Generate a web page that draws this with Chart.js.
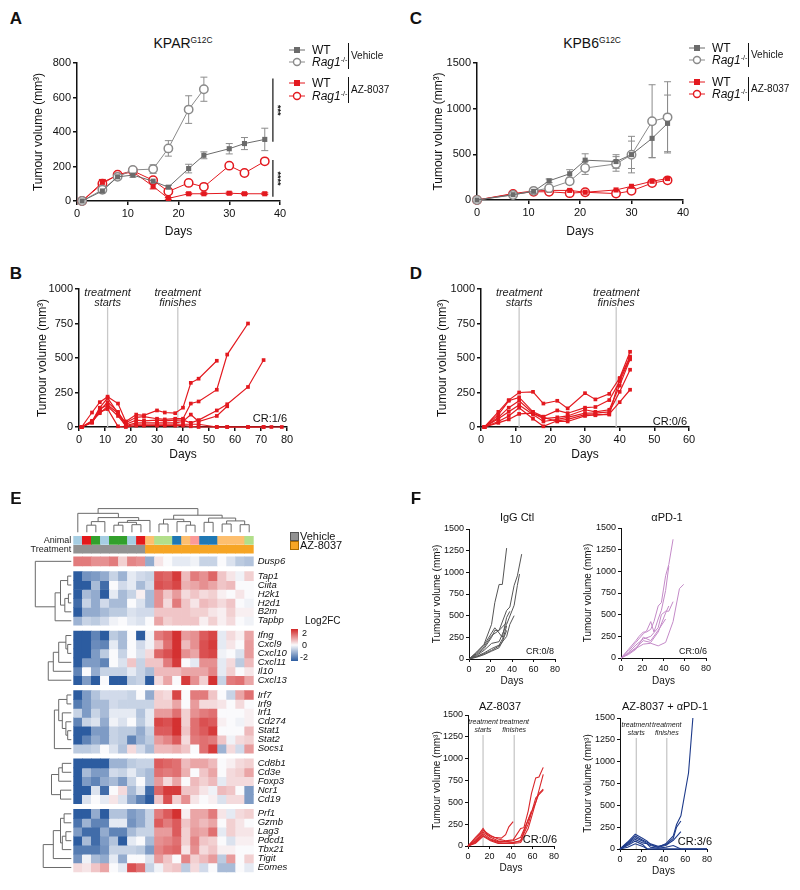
<!DOCTYPE html>
<html>
<head>
<meta charset="utf-8">
<script src="https://cdn.jsdelivr.net/npm/chart.js@4.4.1/dist/chart.umd.min.js"></script>
<style>
body { margin: 0; background: #fff; font-family: "Liberation Sans", Arial, sans-serif; }
#fig { position: relative; width: 800px; height: 890px; overflow: hidden; background: #fff; }
canvas { position: absolute; }
.t { position: absolute; white-space: nowrap; color: #111; z-index: 2; line-height: 1; }
.t sup { font-size: 0.6em; vertical-align: 0.55em; line-height: 0; }
.bar { position: absolute; width: 1px; background: #111; z-index: 2; }
</style>
</head>
<body>
<div id="fig"></div>
<script>
// ---------- data ----------
// panel A (KPAR G12C), mean tumour volume +/- error
const daysA = [1, 5, 8, 11, 15, 18, 22, 25, 30, 33, 37];
const daysARag = [1, 5, 8, 11, 15, 18, 22, 25];
const aWTVeh = [0, 58, 140, 150, 115, 80, 188, 265, 303, 333, 357];
const aWTVehErr = [0, 10, 8, 12, 15, 10, 25, 20, 30, 35, 65];
const aRagVeh = [0, 65, 140, 180, 185, 305, 530, 648];
const aRagVehErr = [0, 10, 10, 15, 25, 45, 80, 70];
const aWTAz = [0, 108, 150, 170, 85, 15, 42, 42, 45, 42, 42];
const aWTAzErr = [0, 10, 10, 12, 15, 5, 5, 5, 6, 5, 5];
const aRagAz = [0, 100, 152, 175, 120, 55, 105, 82, 205, 162, 230];
const aRagAzErr = [0, 25, 10, 15, 12, 10, 10, 10, 12, 10, 12];

// panel C (KPB6 G12C)
const daysC = [0, 7, 11, 14, 18, 21, 27, 30, 34, 37];
const cWTVeh = [0, 58, 95, 210, 287, 436, 421, 497, 675, 839];
const cWTVehErr = [0, 10, 25, 20, 45, 70, 75, 200, 210, 310];
const cRagVeh = [0, 55, 100, 130, 205, 350, 395, 495, 862, 905];
const cRagVehErr = [0, 10, 20, 20, 30, 70, 80, 150, 400, 390];
const cWTAz = [0, 70, 100, 105, 105, 85, 110, 150, 205, 235];
const cRagAz = [0, 65, 90, 90, 75, 85, 70, 100, 185, 215];

// panel B, individual mice (KPAR, AZ-8037)
const daysB = [1, 5, 8, 11, 15, 18, 22, 25, 30, 33, 37, 40, 43, 46, 53, 57, 65, 71, 74, 78];
const miceB = [
  [0, 105, 180, 220, 170, 40, 90, 85, 120, 105, 100, 140, 320, 350, 480],
  [0, 40, 140, 210, 100, 30, 70, 75, 60, 55, 60, 60, 170, 185, 270, 525, 750],
  [0, 30, 120, 180, 110, 20, 50, 45, 50, 45, 50, 50, 30, 50, 120, 165, 290, 485],
  [0, 45, 100, 150, 80, 10, 30, 30, 30, 30, 30, 40, 90, 40, 80, 150],
  [0, 35, 130, 160, 100, 5, 20, 20, 20, 20, 20, 20, 20, 20, 0, 0, 0, 0, 0, 0],
  [0, 35, 110, 130, 5, 0, 10, 10, 10, 10, 10, 10, 5, 0, 0, 0, 0, 0]
];
const treatB = [11, 38];

// panel D, individual mice (KPB6, AZ-8037)
const daysD = [1, 5, 8, 11, 15, 18, 22, 25, 30, 33, 37, 40, 43];
const miceD = [
  [0, 110, 195, 250, 255, 170, 190, 135, 245, 200, 240, 355, 545],
  [0, 90, 190, 215, 110, 75, 120, 100, 140, 145, 195, 330, 500],
  [0, 70, 140, 190, 100, 60, 70, 80, 125, 110, 125, 300, 490],
  [0, 60, 110, 160, 90, 40, 55, 70, 100, 100, 110, 255, 415],
  [0, 40, 80, 140, 60, 5, 45, 55, 90, 85, 95, 180, 270],
  [0, 30, 55, 95, 100, 70, 40, 40, 80, 90, 90, 350, 510]
];
const treatD = [11, 39];

// panel E heatmap
const genes = ['Dusp6', 'Tap1', 'Ciita', 'H2k1', 'H2d1', 'B2m', 'Tapbp', 'Ifng', 'Cxcl9', 'Cxcl10', 'Cxcl11', 'Il10', 'Cxcl13',
  'Irf7', 'Irf9', 'Irf1', 'Cd274', 'Stat1', 'Stat2', 'Socs1', 'Cd8b1', 'Cd3e', 'Foxp3', 'Ncr1', 'Cd19',
  'Prf1', 'Gzmb', 'Lag3', 'Pdcd1', 'Tbx21', 'Tigit', 'Eomes'];
const blockSizes = [1, 6, 6, 7, 5, 7];
const animal = [1, 2, 3, 1, 3, 3, 1, 2, 4, 5, 5, 6, 4, 7, 6, 6, 4, 4, 4, 5];
const treatment = ['Vehicle', 'Vehicle', 'Vehicle', 'Vehicle', 'Vehicle', 'Vehicle', 'Vehicle', 'Vehicle',
  'AZ-8037', 'AZ-8037', 'AZ-8037', 'AZ-8037', 'AZ-8037', 'AZ-8037', 'AZ-8037', 'AZ-8037', 'AZ-8037', 'AZ-8037', 'AZ-8037', 'AZ-8037'];
const heat = [
  [1.2, 1.2, 1.0, 1.0, 1.2, 0.4, 1.1, 1.0, -1.0, 0.2, 0, -0.2, -0.2, -0.1, -0.5, -0.5, 0, -0.3, -0.6, -0.7],
  [-2, -1.3, -1.2, -1.0, -0.5, -0.9, -0.2, -0.4, -0.5, 1.5, 1.4, 1.8, 0.6, 1.2, 1.0, 1.4, 0.5, 0.2, -0.1, 0.4],
  [-2, -2, -0.8, -1.8, 0, -0.4, -0.2, -0.8, -0.4, 1.6, 1.5, 1.7, 0.7, 0.8, 1.0, 0.8, 0.5, 0.6, 0, 0],
  [-2, -0.8, -1.0, -2, -0.2, -0.8, -0.5, 0.1, -0.8, 1.0, 0.5, 0.9, 0.3, 0.5, 0.3, 0.4, 0.1, 0, 0.2, 0],
  [-1.8, -0.5, -1.0, -0.4, -0.8, -0.8, 0, -0.3, -0.8, 1.0, 0.3, 1.2, 0.5, 0.2, 0.6, 0.5, 0.3, 0.5, 0, -0.1],
  [-2, -1.0, -1.0, -0.8, -0.6, -0.6, -0.3, -0.4, -0.4, 0.5, 0.5, 0.5, 0.5, 0.4, 0.4, 0.2, 0.1, 0.4, 0.1, 0.1],
  [-0.9, -0.5, -0.6, -0.4, -0.1, 0, -0.2, -0.3, 0, 0.8, 0.4, 0.5, 0.5, 0.5, 0.1, 0.4, 0.1, 0.3, 0, -0.1],
  [-2, -2, -1.5, -2, -0.6, -0.8, 0, -2, -0.1, 1.2, 1.4, 1.9, 0.9, 1.0, 1.5, 1.7, -0.2, 0.3, 0.1, 0.8],
  [-2, -2, -1.4, -1.5, -0.2, -0.8, 0, -0.4, -0.1, 0.6, 1.3, 1.9, 0.6, 1.0, 1.6, 1.8, -0.2, 0.2, 0, 0.9],
  [-2, -2, -1.2, -0.6, 0, -0.5, 0, -0.3, 0.3, 1.4, 1.6, 1.9, 1.0, 0.8, 1.6, 1.7, -0.1, 0, -0.3, 0.9],
  [-2, -1.2, -1.2, -1.5, 0, -0.3, 0.5, -0.5, 0.5, 0.5, 1.2, 1.8, 0, -0.2, 1.0, 1.0, -0.2, 0.3, -0.6, 0.6],
  [-1.5, 0, -1.0, -0.5, -0.5, -0.5, -0.2, -0.5, -0.8, 0.6, 0.6, 0.6, 0.8, 0.8, 0.8, 1.1, -0.2, 0.4, 0, 0.2],
  [-2, -1.2, -2, 0, -2, -2, -0.6, -0.5, -2, 0.3, 0.8, 0, 1.8, 1.0, 0.4, 1.9, -0.5, 1.2, 1.3, 0.8],
  [-2, -1.2, -0.7, -0.4, -0.4, -0.4, -0.5, 0, -1.0, 0.4, 0.3, 1.7, 0, 1.2, 1.2, 0.5, 0, -0.5, 0.8, 1.3],
  [-1.6, -1.2, -0.8, -0.8, -0.4, -0.5, -0.5, -0.5, -0.5, 0.4, 0.4, 0.8, 0, 0.9, 0.3, 0.3, 0.2, 0, 0.3, 0],
  [-0.5, -1.2, -0.5, -0.8, -0.2, -0.2, -0.2, -0.7, -0.2, 0.9, 0.9, 1.3, 0.4, 1.0, 1.2, 1.3, 0, 0, 0, 0.1],
  [-1.5, -0.5, -0.3, -1.0, -0.1, -0.3, 0, -0.6, -0.2, 1.7, 1.6, 1.9, 0.4, 1.3, 1.6, 1.5, 0.1, 0, -0.1, 0.1],
  [-2, -2, -1.2, -1.2, -0.5, -0.6, -0.6, -1.0, -0.5, 1.5, 1.5, 1.9, 0.5, 1.3, 1.5, 1.8, 0, 0, 0, 0.6],
  [-2, -1.5, -1.0, -1.2, -0.5, -0.6, -1.5, -0.9, -0.6, 0.9, 1.1, 1.5, 0.3, 1.2, 1.3, 1.2, 0.5, -0.1, 0.3, 0.4],
  [-0.6, -0.6, -0.5, 0, -0.3, -0.7, 0.3, -0.4, -0.8, 0.6, 0.6, 0.7, 0.5, 0, 1.3, 1.8, -0.9, 0.3, -0.4, 0.9],
  [-2, -2, -2, -2, -0.9, -0.9, -0.6, -0.5, -0.5, 1.5, 1.4, 1.3, 0.6, 0.8, 0.8, 0.6, 0, 0.1, 0.3, 0.4],
  [-2, -0.8, -1.2, -1.2, -0.4, -0.5, -0.2, -0.6, -0.8, 1.3, 1.2, 1.3, 0.7, 0, 0.5, 0.8, 0, 0.3, 0.4, 0.8],
  [-2, -1.2, -1.5, -1.0, -0.8, -1.2, -0.5, 0, -0.8, 0.9, 0.3, 0.8, 0, 0.6, 0.4, 0.6, -0.2, 0.3, 0.3, 0.3],
  [-2, -2, -0.3, -1.8, 0, 0.3, -0.8, -0.3, -1.8, 1.4, 1.8, 1.8, 0.5, 0.5, 0.2, -0.1, 0.6, 0.5, 0, -1.2],
  [-2, -0.3, 0, -0.2, 0.2, -0.3, -1.0, -1.5, -2, 0.5, 1.6, 0.4, 1.0, 0.2, 0, 0.1, -0.3, 0.3, 0.3, -1.2],
  [-2, -2, -1.0, -2, -0.7, -0.7, -1.2, -1.0, -0.5, 1.2, 1.5, 1.9, 0.1, 0.8, 0.8, 1.2, 0.2, -0.2, 0.3, 0.4],
  [-1.7, -0.9, -1.5, -1.5, -0.2, -0.2, -1.3, -1.0, -0.5, 1.5, 1.2, 1.5, 0.5, 0.8, 0.6, 0.8, 0, 0.4, 0.2, 0],
  [-1.2, -1.8, -1.8, -1.0, -1.5, -1.5, -0.8, -0.5, -0.5, 0.9, 0.9, 1.5, 0.4, 0.9, 0.8, 1.3, -0.2, 0.4, 0.2, 0.2],
  [-2, -0.8, -1.8, -1.2, -0.7, -2, -0.2, 0, -0.8, 1.0, 1.1, 1.3, 0.4, 1.1, 0.5, 0.4, 0, -0.3, 0.1, 0.1],
  [-1.6, -1.6, -1.6, -1.3, -0.5, -0.5, -0.5, -0.6, -1.2, 1.1, 1.3, 1.4, 0.2, 1.0, 0.3, 0.5, 0.1, 0.1, 0, 0],
  [-1.3, -0.1, -0.8, -1.0, -0.2, -1.0, 0, 0, -0.3, 0.9, 0.5, 0, 1.1, 0.4, 0.6, 0.9, -0.6, 0.9, 0, 0.4],
  [0.3, 0.2, 0.5, 0.8, 0, -0.2, 1.6, 1.3, -0.5, -0.1, 0.4, 0.5, -0.6, 0.3, -0.4, 0, -0.8, -0.8, 0, -0.2]
];
// dendrograms: [height, left, right], leaves are column / gene indices
const colTree = [1.0,
  [0.8, 0, [0.62, [0.45, [0.3, 1, 2], 3], [0.5, [0.42, [0.3, 4, 5], [0.32, 6, 7]], 8]]],
  [0.72, [0.55, [0.35, 9, 10], [0.45, 11, [0.3, 12, 13]]], [0.6, [0.42, 14, 15], [0.48, [0.35, 16, 17], [0.32, 18, 19]]]]];
const rowTrees = [
  [1.0, 0, [0.45, [0.3, [0.1, 1, 2], [0.18, [0.08, 3, 4], 5]], 6]],
  [0.64, [0.5, [0.35, [0.15, 7, [0.1, 8, 9]], 10], 11], 12],
  [0.47, [0.35, [0.12, 13, 14], [0.25, 15, [0.15, 16, [0.1, 17, 18]]]], 19],
  [0.55, [0.35, [0.25, 20, 21], 22], [0.3, 23, 24]],
  [0.78, [0.5, [0.3, [0.2, 25, 26], [0.25, [0.15, 27, 28], 29]], 30], 31]
];

// panel F, individual mice growth
const fIgGDays = [[0, 7, 14, 21, 24, 28, 31, 35], [0, 7, 14, 21, 28, 35, 38, 42, 45, 49], [0, 7, 14, 21, 24, 28, 31, 35, 38],
  [0, 7, 14, 21, 24, 28, 35], [0, 7, 14, 21, 28, 35, 42, 45, 47], [0, 7, 14, 21, 28, 32, 35], [0, 7, 14, 21, 28, 35, 38, 42], [0, 7, 14, 21, 28, 31, 35]];
const fIgGVals = [[0, 80, 170, 400, 650, 860, 860, 1280], [0, 60, 140, 270, 330, 560, 600, 850, 960, 1210], [0, 70, 160, 300, 360, 300, 250, 480, 550],
  [0, 50, 120, 250, 330, 330, 420], [0, 40, 100, 180, 200, 400, 620, 850, 980], [0, 30, 70, 120, 160, 250, 380], [0, 25, 60, 100, 150, 260, 400, 500], [0, 20, 50, 90, 130, 200, 330]];
const fPD1Days = [[0, 7, 14, 17, 21, 24, 28, 31, 35, 38, 42, 45, 49], [0, 7, 14, 21, 24, 28, 31, 35, 38, 42, 45], [0, 7, 14, 21, 28, 35, 38, 42, 45, 49],
  [0, 7, 14, 21, 28, 35, 42, 45], [0, 7, 14, 21, 28, 35, 42, 49, 55, 59], [0, 7, 14, 21, 28, 35, 42]];
const fPD1Vals = [[0, 100, 200, 250, 300, 300, 330, 420, 600, 640, 950, 1080, 1370], [0, 80, 180, 280, 310, 420, 300, 450, 550, 780, 1060], [0, 60, 150, 220, 250, 350, 500, 540, 540, 650],
  [0, 50, 120, 200, 180, 300, 520, 600], [0, 50, 110, 160, 170, 140, 180, 420, 800, 850], [0, 40, 100, 240, 200, 320, 450]];
const fAZDays = [[0, 7, 11, 14, 18, 24, 31, 35, 38, 42], [0, 7, 14, 21, 28, 35, 42, 49, 52, 56, 59, 63, 66, 70], [0, 7, 14, 21, 28, 35, 42, 49, 56, 63, 70],
  [0, 7, 14, 21, 28, 35, 42, 49, 56, 63, 70], [0, 7, 14, 21, 28, 35, 42, 49, 56, 63, 66, 70], [0, 7, 14, 21, 28, 35, 42, 49, 56, 59]];
const fAZVals = [[0, 100, 150, 200, 130, 100, 90, 130, 220, 280], [0, 80, 180, 120, 80, 60, 70, 200, 210, 400, 600, 780, 790, 900], [0, 60, 160, 100, 60, 50, 60, 100, 300, 500, 820],
  [0, 50, 140, 80, 50, 50, 40, 60, 250, 550, 640], [0, 40, 120, 70, 40, 30, 30, 40, 200, 500, 600, 650], [0, 30, 110, 60, 30, 30, 40, 60, 300, 400]];
const fComboDays = [[0, 7, 14, 21, 25, 28, 35, 42, 49, 52, 56, 63, 67], [0, 7, 14, 21, 28, 35, 42, 49, 52, 56], [0, 7, 14, 21, 28, 35, 42, 49, 56],
  [0, 7, 14, 21, 25, 28, 35, 42, 49, 56, 80], [0, 7, 14, 21, 25, 35, 80], [0, 7, 14, 21, 25, 80]];
const fComboVals = [[0, 80, 170, 120, 90, 50, 20, 60, 150, 280, 380, 870, 1500], [0, 70, 150, 100, 60, 30, 50, 120, 250, 320], [0, 60, 130, 90, 40, 20, 40, 100, 200],
  [0, 50, 110, 70, 60, 20, 10, 20, 40, 0, 0], [0, 40, 90, 50, 0, 0, 0], [0, 20, 60, 30, 0, 0]];
const treatF3 = [14, 43];
const treatF4 = [15, 43];

// ---------- helpers ----------
Chart.defaults.font.family = '"Liberation Sans", Arial, sans-serif';
Chart.defaults.color = '#111';
Chart.defaults.animation = false;

const fig = document.getElementById('fig');
const GREY = '#6b6b6b', GREY_L = '#8a8a8a', RED = '#e3191f';

function txt(html, x, y, css, anchor) {
  const d = document.createElement('div');
  d.className = 't';
  d.innerHTML = html;
  d.style.cssText += css || '';
  d.style.left = x + 'px';
  d.style.top = y + 'px';
  const tx = anchor === 'l' ? '0' : anchor === 'r' ? '-100%' : '-50%';
  d.style.transform = 'translate(' + tx + ',-50%)';
  fig.appendChild(d);
  return d;
}

function vbar(x, y1, y2) {
  const d = document.createElement('div');
  d.className = 'bar';
  d.style.left = x + 'px'; d.style.top = y1 + 'px'; d.style.height = (y2 - y1) + 'px';
  fig.appendChild(d);
}

function marker(x, y, color, kind) {
  const shape = kind === 'sq'
    ? `<rect x="5" y="2" width="6" height="6" fill="${color}"/>`
    : `<circle cx="8" cy="5" r="3.5" fill="#fff" stroke="${color}" stroke-width="1.4"/>`;
  txt(`<svg width="16" height="10"><line x1="0" y1="5" x2="16" y2="5" stroke="${color}" stroke-width="1"/>${shape}</svg>`, x, y, '', 'l');
}

function addCanvas(l, t, w, h) {
  const c = document.createElement('canvas');
  c.width = w; c.height = h;
  c.style.left = l + 'px'; c.style.top = t + 'px';
  c.style.width = w + 'px'; c.style.height = h + 'px';
  fig.appendChild(c);
  return c;
}

const zip = (xs, ys) => ys.map((v, i) => ({ x: xs[i], y: v }));

// error bars drawn from the y scale
const errorBars = {
  id: 'errorBars',
  beforeDatasetsDraw(chart) {
    const { ctx } = chart;
    const ys = chart.scales.y;
    chart.data.datasets.forEach((ds, i) => {
      if (!ds.errors) return;
      const meta = chart.getDatasetMeta(i);
      ctx.save();
      ctx.strokeStyle = ds.errColor || ds.borderColor;
      ctx.lineWidth = 1;
      ctx.beginPath();
      meta.data.forEach((el, j) => {
        const e = ds.errors[j];
        if (!e) return;
        const v = ds.data[j].y;
        const y1 = ys.getPixelForValue(v - e), y2 = ys.getPixelForValue(v + e);
        ctx.moveTo(el.x, y1); ctx.lineTo(el.x, y2);
        ctx.moveTo(el.x - 3.5, y1); ctx.lineTo(el.x + 3.5, y1);
        ctx.moveTo(el.x - 3.5, y2); ctx.lineTo(el.x + 3.5, y2);
      });
      ctx.stroke();
      ctx.restore();
    });
  }
};

// treatment window lines, CR text, significance bars
function annot(cfg) {
  return {
    id: 'annot',
    beforeDatasetsDraw(chart) {
      const { ctx, chartArea: ca, scales: { x } } = chart;
      if (cfg.treat) {
        const tr = cfg.treat;
        ctx.save();
        ctx.strokeStyle = '#c8c8c8';
        ctx.lineWidth = 1.3;
        tr.days.forEach(d => {
          const px = x.getPixelForValue(d);
          ctx.beginPath(); ctx.moveTo(px, ca.top + tr.lineFrom); ctx.lineTo(px, ca.bottom); ctx.stroke();
        });
        ctx.fillStyle = '#222';
        ctx.font = `italic ${tr.size}px "Liberation Sans", Arial, sans-serif`;
        ctx.textAlign = 'center';
        ctx.textBaseline = 'middle';
        tr.days.forEach((d, k) => {
          const px = x.getPixelForValue(d);
          ctx.fillText('treatment', px, ca.top + tr.y1);
          ctx.fillText(k === 0 ? 'starts' : 'finishes', px, ca.top + tr.y2);
        });
        ctx.restore();
      }
    },
    afterDatasetsDraw(chart) {
      const { ctx, chartArea: ca, scales: { x, y } } = chart;
      ctx.save();
      if (cfg.cr) {
        ctx.fillStyle = '#111';
        ctx.font = `${cfg.cr.size}px "Liberation Sans", Arial, sans-serif`;
        ctx.textAlign = 'right';
        ctx.textBaseline = 'middle';
        ctx.fillText(cfg.cr.text, ca.right + cfg.cr.dx, ca.bottom - cfg.cr.dy);
      }
      if (cfg.sig) {
        ctx.strokeStyle = '#111';
        ctx.fillStyle = '#111';
        ctx.lineWidth = 1.2;
        cfg.sig.forEach(s => {
          const px = x.getPixelForValue(s.day);
          const y1 = y.getPixelForValue(s.from), y2 = y.getPixelForValue(s.to);
          ctx.beginPath(); ctx.moveTo(px, y1); ctx.lineTo(px, y2); ctx.stroke();
          ctx.save();
          ctx.translate(px + 5, (y1 + y2) / 2);
          ctx.rotate(Math.PI / 2);
          ctx.font = 'bold 9px "Liberation Sans", Arial, sans-serif';
          ctx.textAlign = 'center';
          ctx.textBaseline = 'middle';
          ctx.fillText(s.stars, 0, 0);
          ctx.restore();
        });
      }
      ctx.restore();
    }
  };
}

// builds a chart whose plot area lands on box.l..box.r, box.t..box.b
function plotChart(box, datasets, extra) {
  const L = Math.round(box.titleX - box.ts * 0.6);
  const B = Math.round(box.titleY + box.ts * 0.6);
  const T = box.t - 10;
  const R = box.r + 16;
  const c = addCanvas(L, T, R - L, B - T);
  const tickCol = '#111';
  const axisBase = {
    type: 'linear',
    grid: { display: true, drawOnChartArea: false, drawTicks: true, tickLength: box.tl, color: tickCol, lineWidth: box.lw },
    border: { display: true, color: tickCol, width: box.lw }
  };
  return new Chart(c, {
    type: 'line',
    data: { datasets },
    options: {
      responsive: false,
      animation: false,
      layout: { padding: { top: box.t - T, right: R - box.r, left: 0, bottom: 0 } },
      plugins: { legend: { display: false }, tooltip: { enabled: false } },
      scales: {
        x: Object.assign({}, axisBase, {
          min: box.xmin, max: box.xmax,
          afterFit: s => { s.height = B - box.b; },
          ticks: { stepSize: box.xstep, font: { size: box.fs }, padding: 2, maxRotation: 0, autoSkip: false, color: tickCol, callback: v => String(v) },
          title: { display: true, text: 'Days', font: { size: box.ts }, padding: 0, color: tickCol }
        }),
        y: Object.assign({}, axisBase, {
          min: 0, max: box.ymax,
          afterFit: s => { s.width = box.l - L; },
          ticks: { stepSize: box.ystep, font: { size: box.fs }, padding: 2, autoSkip: false, color: tickCol, callback: v => String(v) },
          title: { display: true, text: 'Tumour volume (mm³)', font: { size: box.ts }, padding: 0, color: tickCol }
        })
      }
    },
    plugins: [errorBars, annot(extra || {})]
  });
}

function meanSet(xs, ys, err, color, kind) {
  return {
    data: zip(xs, ys), errors: err, errColor: color === RED ? RED : '#8c8c8c',
    borderColor: color, borderWidth: 1, clip: false,
    pointStyle: kind === 'sq' ? 'rect' : 'circle',
    pointRadius: kind === 'sq' ? 3.6 : 4.2,
    pointBackgroundColor: kind === 'sq' ? color : '#fff',
    pointBorderColor: color, pointBorderWidth: kind === 'sq' ? 0 : 1.5
  };
}

function miceSets(days, mice, color) {
  return mice.map(v => ({
    data: zip(days, v), borderColor: color, borderWidth: 1.2, clip: false,
    pointStyle: 'rect', pointRadius: 2.6, pointBackgroundColor: color, pointBorderWidth: 0
  }));
}

function lineSets(daysList, valsList, color, w) {
  return valsList.map((v, i) => ({
    data: zip(daysList[i], v), borderColor: color, borderWidth: w, pointRadius: 0, clip: false, tension: 0
  }));
}

// ---------- panel A ----------
const boxBig = { fs: 11, ts: 12, tl: 4, lw: 1.5 };
plotChart(Object.assign({ l: 77, r: 280, t: 63, b: 201, titleX: 38, titleY: 232, xmin: 0, xmax: 40, xstep: 10, ymax: 800, ystep: 200 }, boxBig), [
  meanSet(daysA, aWTVeh, aWTVehErr, GREY, 'sq'),
  meanSet(daysARag, aRagVeh, aRagVehErr, GREY_L, 'ci'),
  meanSet(daysA, aWTAz, aWTAzErr, RED, 'sq'),
  meanSet(daysA, aRagAz, aRagAzErr, RED, 'ci')
], { sig: [{ day: 38.6, from: 710, to: 343, stars: '***' }, { day: 38.6, from: 237, to: 25, stars: '****' }] });

// ---------- panel C ----------
plotChart(Object.assign({ l: 477, r: 683, t: 63, b: 200, titleX: 438, titleY: 232, xmin: 0, xmax: 40, xstep: 10, ymax: 1500, ystep: 500 }, boxBig), [
  meanSet(daysC, cWTVeh, cWTVehErr, GREY, 'sq'),
  meanSet(daysC, cRagVeh, cRagVehErr, GREY_L, 'ci'),
  meanSet(daysC, cWTAz, null, RED, 'sq'),
  meanSet(daysC, cRagAz, null, RED, 'ci')
]);

// ---------- panel B ----------
plotChart(Object.assign({ l: 79, r: 287, t: 289, b: 427, titleX: 42, titleY: 455, xmin: 0, xmax: 80, xstep: 10, ymax: 1000, ystep: 250 }, boxBig),
  miceSets(daysB, miceB, RED),
  { treat: { days: treatB, size: 11, y1: 4, y2: 14, lineFrom: 18 }, cr: { text: 'CR:1/6', size: 11, dx: 0, dy: 8 } });

// ---------- panel D ----------
plotChart(Object.assign({ l: 481, r: 689, t: 289, b: 427, titleX: 442, titleY: 455, xmin: 0, xmax: 60, xstep: 10, ymax: 1000, ystep: 250 }, boxBig),
  miceSets(daysD, miceD, RED),
  { treat: { days: treatD, size: 11, y1: 4, y2: 14, lineFrom: 18 }, cr: { text: 'CR:0/6', size: 11, dx: -2, dy: 5 } });

// ---------- panel F ----------
const boxSmall = { fs: 9, ts: 10, tl: 3, lw: 1, xmin: 0, xmax: 80, xstep: 20, ymax: 1500, ystep: 250 };
plotChart(Object.assign({ l: 469, r: 555, t: 529, b: 659, titleX: 437, titleY: 681 }, boxSmall),
  lineSets(fIgGDays, fIgGVals, '#555', 1), { cr: { text: 'CR:0/8', size: 9, dx: -1, dy: 7 } });
plotChart(Object.assign({ l: 621, r: 706, t: 528, b: 658, titleX: 588, titleY: 681 }, boxSmall),
  lineSets(fPD1Days, fPD1Vals, '#c48ac8', 1), { cr: { text: 'CR:0/6', size: 9, dx: 1, dy: 6 } });
plotChart(Object.assign({ l: 468, r: 554, t: 715, b: 846, titleX: 437, titleY: 868 }, boxSmall),
  lineSets(fAZDays, fAZVals, '#d9262a', 1.1),
  { treat: { days: treatF3, size: 7, y1: 7, y2: 15, lineFrom: 20 }, cr: { text: 'CR:0/6', size: 11, dx: 3, dy: 6 } });
plotChart(Object.assign({ l: 620, r: 707, t: 718, b: 849, titleX: 588, titleY: 871 }, boxSmall),
  lineSets(fComboDays, fComboVals, '#1d3a8a', 1.1),
  { treat: { days: treatF4, size: 7, y1: 7, y2: 15, lineFrom: 20 }, cr: { text: 'CR:3/6', size: 11, dx: 5, dy: 7 } });

// ---------- panel E heatmap ----------
const animalPalette = { 1: '#a6cee3', 2: '#e31a1c', 3: '#33a02c', 4: '#fdbf6f', 5: '#b2df8a', 6: '#1f78b4', 7: '#fb9a99' };
const treatPalette = { 'Vehicle': '#929292', 'AZ-8037': '#f6a524' };
function fcColor(v) {
  const t = Math.max(-1, Math.min(1, v / 2));
  const w = [250, 250, 252];
  const end = t < 0 ? [44, 92, 160] : [210, 38, 38];
  const a = Math.abs(t);
  const c = w.map((wv, k) => Math.round(wv + (end[k] - wv) * a));
  return `rgb(${c[0]},${c[1]},${c[2]})`;
}
const rowStart = [];
{
  let yy = 2.3;
  blockSizes.forEach(n => {
    for (let i = 0; i < n; i++) rowStart.push(yy + i);
    yy += n + 0.65;
  });
}
const colIds = animal.map((_, i) => 'S' + (i + 1));

function walk(node, leaf, hp, line) {
  if (typeof node === 'number') return { p: leaf(node), q: hp(0) };
  const [h, a, b] = node;
  const A = walk(a, leaf, hp, line), Bn = walk(b, leaf, hp, line), q = hp(h);
  line(A.p, A.q, A.p, q); line(Bn.p, Bn.q, Bn.p, q); line(A.p, q, Bn.p, q);
  return { p: (A.p + Bn.p) / 2, q };
}
const dendro = {
  id: 'dendro',
  afterDatasetsDraw(chart) {
    const { ctx, chartArea: ca, scales: { x, y } } = chart;
    ctx.save();
    ctx.strokeStyle = '#6a6a6a';
    ctx.lineWidth = 1;
    ctx.beginPath();
    const leafY = y.getPixelForValue(-0.45), topY = y.getPixelForValue(-3.1);
    walk(colTree, i => x.getPixelForValue(i), h => leafY + (topY - leafY) * h,
      (p1, q1, p2, q2) => { ctx.moveTo(p1, q1); ctx.lineTo(p2, q2); });
    rowTrees.forEach(tree => {
      walk(tree, i => y.getPixelForValue(rowStart[i] + 0.5), h => ca.left - 2 - h * 36,
        (p1, q1, p2, q2) => { ctx.moveTo(q1, p1); ctx.lineTo(q2, p2); });
    });
    ctx.stroke();
    ctx.restore();
  }
};

{
  const L = 0, T = 498, R = 300, B = 883;
  const plotL = 73.3, plotR = 253.7, plotT = 503.9, plotB = 876.4;
  const c = addCanvas(L, T, R - L, B - T);
  const cellSet = (label, span, colors) => ({
    label, data: colIds.map(() => span), backgroundColor: colors, borderWidth: 0,
    barPercentage: 1, categoryPercentage: 1, grouped: false
  });
  const datasets = [
    cellSet('Animal', [0, 0.92], animal.map(a => animalPalette[a])),
    cellSet('Treatment', [1.02, 1.9], treatment.map(t => treatPalette[t])),
    ...genes.map((g, r) => cellSet(g, [rowStart[r], rowStart[r] + 1], heat[r].map(fcColor)))
  ];
  const annoLabels = ['Animal', 'Treatment'];
  new Chart(c, {
    type: 'bar',
    data: { labels: colIds, datasets },
    options: {
      responsive: false,
      animation: false,
      layout: { padding: { top: plotT - T, bottom: B - plotB, left: 0, right: 0 } },
      plugins: { legend: { display: false }, tooltip: { enabled: false } },
      scales: {
        x: { type: 'category', display: false, offset: true },
        y: {
          type: 'linear', min: -3.2, max: 37.7, reverse: true, position: 'left',
          afterFit: s => { s.width = plotL - L; },
          afterBuildTicks: s => { s.ticks = [{ value: 0.46 }, { value: 1.46 }]; },
          ticks: { autoSkip: false, padding: 2, font: { size: 9 }, color: '#222', callback: (v, i) => annoLabels[i] },
          grid: { display: false, drawTicks: false }, border: { display: false }
        },
        yr: {
          type: 'linear', min: -3.2, max: 37.7, reverse: true, position: 'right',
          afterFit: s => { s.width = R - plotR; },
          afterBuildTicks: s => { s.ticks = genes.map((g, r) => ({ value: rowStart[r] + 0.5 })); },
          ticks: { autoSkip: false, padding: 4, font: { size: 9.5, style: 'italic' }, color: '#111', callback: (v, i) => genes[i] },
          grid: { display: false, drawTicks: false }, border: { display: false }
        }
      }
    },
    plugins: [dendro]
  });
}

// ---------- HTML labels ----------
const letterCss = 'font-size:17px;font-weight:bold;';
txt('A', 16, 18, letterCss); txt('C', 416, 18, letterCss);
txt('B', 16, 273, letterCss); txt('D', 416, 273, letterCss);
txt('E', 16, 498, letterCss); txt('F', 416, 498, letterCss);

txt('KPAR<sup>G12C</sup>', 183, 43, 'font-size:14px;');
txt('KPB6<sup>G12C</sup>', 592, 43, 'font-size:14px;');

function groupLegend(mx, tx, barX, rows, groups) {
  rows.forEach((r, k) => {
    marker(mx, r.y, r.color, r.kind);
    txt(r.kind === 'sq' ? 'WT' : '<i>Rag1</i><sup>-/-</sup>', tx, r.y, 'font-size:12px;', 'l');
  });
  groups.forEach(g => {
    vbar(barX, g.y1, g.y2);
    txt(g.text, barX + 3, (g.y1 + g.y2) / 2, 'font-size:10px;', 'l');
  });
}
groupLegend(289, 312, 348, [
  { y: 50, color: GREY, kind: 'sq' }, { y: 62, color: GREY_L, kind: 'ci' },
  { y: 83, color: RED, kind: 'sq' }, { y: 96, color: RED, kind: 'ci' }
], [{ y1: 43, y2: 69, text: 'Vehicle' }, { y1: 77, y2: 103, text: 'AZ-8037' }]);
groupLegend(689, 712, 748, [
  { y: 48, color: GREY, kind: 'sq' }, { y: 60, color: GREY_L, kind: 'ci' },
  { y: 82, color: RED, kind: 'sq' }, { y: 94, color: RED, kind: 'ci' }
], [{ y1: 43, y2: 67, text: 'Vehicle' }, { y1: 77, y2: 101, text: 'AZ-8037' }]);

// F titles
txt('IgG Ctl', 517, 517, 'font-size:11px;');
txt('αPD-1', 667, 517, 'font-size:11px;');
txt('AZ-8037', 500, 706, 'font-size:11px;');
txt('AZ-8037 + αPD-1', 665, 706, 'font-size:11px;');

// E legends
function box(x, y, color, border) {
  const d = document.createElement('div');
  d.style.cssText = `position:absolute;left:${x}px;top:${y}px;width:7px;height:7px;background:${color};border:1px solid ${border};z-index:2;`;
  fig.appendChild(d);
}
box(290, 532, treatPalette['Vehicle'], '#555');
txt('Vehicle', 300, 536, 'font-size:11px;', 'l');
box(290, 541, treatPalette['AZ-8037'], '#a86a00');
txt('AZ-8037', 300, 545, 'font-size:11px;', 'l');

txt('Log2FC', 305, 621, 'font-size:10px;', 'l');
{
  const cb = document.createElement('div');
  cb.style.cssText = `position:absolute;left:291px;top:629px;width:7px;height:32px;z-index:2;background:linear-gradient(to bottom, ${fcColor(2)}, ${fcColor(0)}, ${fcColor(-2)});`;
  fig.appendChild(cb);
}
txt('2', 302, 633, 'font-size:9px;', 'l');
txt('0', 302, 645, 'font-size:9px;', 'l');
txt('-2', 300, 657, 'font-size:9px;', 'l');
</script>
</body>
</html>
